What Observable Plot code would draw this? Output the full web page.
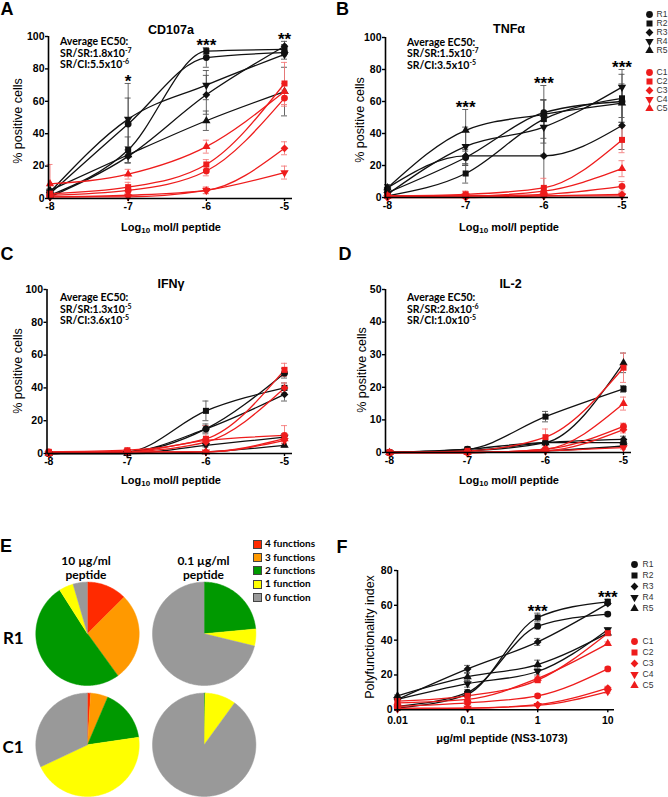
<!DOCTYPE html>
<html><head><meta charset="utf-8">
<script src="https://cdn.jsdelivr.net/npm/d3@7"></script>
<script src="https://cdn.jsdelivr.net/npm/@observablehq/plot@0.6"></script>
<style>
body{margin:0;background:#fff;}
#fig{position:relative;width:668px;height:797px;overflow:hidden;font-family:"Liberation Sans",Arial,sans-serif;color:#000;background:#fff;}
#fig svg{position:absolute;}
.t{position:absolute;white-space:nowrap;line-height:1;}
.c{transform:translate(-50%,-50%);text-align:center;}
.letter{font-weight:bold;font-size:18px;}
.title{font-weight:bold;font-size:12.5px;}
.ec{font-family:Lato,"Liberation Sans",sans-serif;font-weight:bold;font-size:10.5px;line-height:11.7px;}
.ec sup{font-size:7px;position:relative;top:-0.6em;vertical-align:baseline;line-height:0;}
.ytitle{font-size:12.5px;transform:translate(-50%,-50%) rotate(-90deg);}
.xtitle{font-weight:bold;font-size:11px;}
.xtitle sub{font-size:8px;vertical-align:baseline;position:relative;top:0.3em;}
.ehead{font-family:Lato,"Liberation Sans",sans-serif;font-weight:bold;font-size:12px;line-height:14.5px;}
.erow{font-family:Lato,"Liberation Sans",sans-serif;font-weight:bold;font-size:17px;}
.eleg{font-family:Lato,"Liberation Sans",sans-serif;font-weight:bold;font-size:10px;}
.sw{position:absolute;width:7px;height:7px;border:0.8px solid #444;}
</style>
</head>
<body>
<div id="fig">
  <div class="t c letter" style="left:7px;top:8.5px">A</div>
  <div class="t c letter" style="left:342.5px;top:8.5px">B</div>
  <div class="t c letter" style="left:7px;top:253.5px">C</div>
  <div class="t c letter" style="left:345px;top:253.5px">D</div>
  <div class="t c letter" style="left:6px;top:546px">E</div>
  <div class="t c letter" style="left:342px;top:546.5px">F</div>

  <div class="t c title" style="left:171px;top:29.5px">CD107a</div>
  <div class="t c title" style="left:509px;top:29px">TNFα</div>
  <div class="t c title" style="left:171px;top:283.5px">IFNγ</div>
  <div class="t c title" style="left:510.5px;top:283.5px">IL-2</div>

  <div class="t ec" style="left:60px;top:36px">Average EC50:<br>SR/SR:1.8x10<sup>-7</sup><br>SR/CI:5.5x10<sup>-6</sup></div>
  <div class="t ec" style="left:407px;top:36.5px">Average EC50:<br>SR/SR:1.5x10<sup>-7</sup><br>SR/CI:3.5x10<sup>-5</sup></div>
  <div class="t ec" style="left:60px;top:292px">Average EC50:<br>SR/SR:1.3x10<sup>-5</sup><br>SR/CI:3.6x10<sup>-5</sup></div>
  <div class="t ec" style="left:407px;top:292px">Average EC50:<br>SR/SR:2.8x10<sup>-6</sup><br>SR/CI:1.0x10<sup>-5</sup></div>

  <div class="t ytitle" style="left:18px;top:121px">% positive cells</div>
  <div class="t ytitle" style="left:360px;top:120px">% positive cells</div>
  <div class="t ytitle" style="left:18px;top:371px">% positive cells</div>
  <div class="t ytitle" style="left:362px;top:370px">% positive cells</div>
  <div class="t ytitle" style="left:370px;top:637px">Polyfunctionality index</div>

  <div class="t c xtitle" style="left:171px;top:226.7px">Log<sub>10</sub> mol/l peptide</div>
  <div class="t c xtitle" style="left:509px;top:226.7px">Log<sub>10</sub> mol/l peptide</div>
  <div class="t c xtitle" style="left:171px;top:480px">Log<sub>10</sub> mol/l peptide</div>
  <div class="t c xtitle" style="left:509px;top:480px">Log<sub>10</sub> mol/l peptide</div>
  <div class="t c xtitle" style="left:502px;top:738px">μg/ml peptide (NS3-1073)</div>

  <div class="t c ehead" style="left:86px;top:567.5px">10 µg/ml<br>peptide</div>
  <div class="t c ehead" style="left:203.5px;top:567.5px">0.1 µg/ml<br>peptide</div>
  <div class="t c erow" style="left:13.3px;top:636.7px">R1</div>
  <div class="t c erow" style="left:13px;top:746px">C1</div>
</div>
<script>
// ---------------- data ----------------
const doses = [-8, -7, -6, -5];
const polyDoses = [0.01, 0.1, 1, 10];
const seriesNames = ["R1","R2","R3","R4","R5","C1","C2","C3","C4","C5"];

const cd107aMean = [
  [3,46,87,90],[2,30,91,92],[1,26,64,94],[4,49,70,89],[5,27,48,66],
  [2,5,17,62],[3,7,21,71],[1,2,5,31],[1,1,5,16],[9,15,32,66]];
const cd107aErr = [
  [1,16,6,2],[1,8,2,3],[1,4,12,3],[1,22,9,3],[1,5,6,15],
  [1,2,3,5],[1,3,3,13],[1,1,2,4],[1,1,2,4],[12,3,4,5]];
const cd107aSig = ["","*","***","**"];

const tnfMean = [
  [3,25,53,60],[1,15,49,62],[6,26,26,45],[2,32,44,69],[6,42,52,59],
  [1,1,2,7],[1,2,6,36],[0,0,1,2],[0,1,1,1],[1,1,4,18]];
const tnfErr = [
  [1,5,8,10],[1,6,12,15],[2,5,22,15],[1,12,17,11],[2,13,18,12],
  [0.5,1,2,3],[0.5,2,6,8],[0.5,0.5,1,1],[0.5,0.5,1,1],[0.5,1,2,5]];
const tnfSig = ["","***","***","***"];

const ifngMean = [
  [0,1,15,49],[0,1,26,40],[0,1,15,36],[0,0,5,10],[0,0,1,5],
  [1,1,8,11],[1,2,9,51],[0,1,7,40],[0,1,1,8],[0,1,1,9]];
const ifngErr = [
  [0.5,0.5,3,3],[0.5,0.5,6,3],[0.5,0.5,2,4],[0.5,0.5,1,2],[0.5,0.5,0.5,1],
  [0.5,0.5,1,6],[0.5,1,8,4],[0.5,0.5,2,3],[0.5,0.5,0.5,2],[0.5,0.5,0.5,2]];
const ifngSig = ["","","",""];

const il2Mean = [
  [0,1,3,3],[0,1,11,19.5],[0,0.5,3,4],[0,0,0.5,2],[0,0.5,3,27.5],
  [0,0,1,8],[0,0.5,4.7,26],[0,0,0.5,7],[0,0,0.5,1.5],[0,0,1,15]];
const il2Err = [
  [0.2,0.3,0.5,1],[0.2,0.4,1.6,1],[0.2,0.2,0.5,1],[0.2,0.2,0.3,0.5],[0.2,0.3,0.5,3],
  [0.2,0.2,0.5,1],[0.2,0.3,2.5,4.5],[0.2,0.2,0.3,1],[0.2,0.2,0.3,0.5],[0.2,0.2,0.5,2]];
const il2Sig = ["","","",""];

const polyMean = [
  [2,10,48,55],[1,9,53,62],[6,23.5,39,61],[6,15,22,46],[8,19,26,44],
  [2,4,8,23.5],[5,8,17,44],[1,1,3,12.5],[0.5,1,2.5,10.5],[4,6,18,38]];
const polyErr = [
  [0.5,1.5,1.5,1],[0.5,1.5,2.5,1.5],[0.5,2,2,1],[0.5,2,2,1],[0.5,2,2.5,1],
  [0.5,1,1,1],[0.5,1,1,1],[0.5,0.5,0.5,1],[0.5,0.5,0.5,1],[0.5,1,1,1]];
const polySig = ["","","***","***"];

const pieFunctions = ["4 functions","3 functions","2 functions","1 function","0 function"];
const pieR1High = [12.5,27.5,51,4.5,4.5];
const pieR1Low  = [0,0,23.5,5.3,71.2];
const pieC1High = [1,5.4,16.3,45.3,32];
const pieC1Low  = [0,0,0.3,9.7,90];

// ---------------- styles ----------------
const BLACK = "#111", RED = "#ee1c1c", BLACK_ERR = "#555", RED_ERR = "#f47a7a";
const pieColors = ["#ff2a00","#ff9900","#009900","#ffff00","#999999"];
const triDown = {draw(ctx, size){const y=-Math.sqrt(size/(Math.sqrt(3)*3));ctx.moveTo(0,-y*2);ctx.lineTo(-Math.sqrt(3)*y,y);ctx.lineTo(Math.sqrt(3)*y,y);ctx.closePath();}};
const shapes = ["circle","square","diamond2",triDown,"triangle"];
const shapeR = [3.4,3.4,3.5,3.1,3.1];
const baseStyle = {fontFamily:'"Liberation Sans", Arial, sans-serif',fontSize:"10.5px",fontWeight:"bold",background:"transparent",overflow:"visible",color:"#000",maxWidth:"none"};
const fig = document.getElementById("fig");
function place(svg, left, top){svg.style.position="absolute";svg.style.left=left+"px";svg.style.top=top+"px";fig.appendChild(svg);}

// ---------------- dose-response panels ----------------
function panel(cfg){
  const xs = cfg.xs;
  const t = cfg.log ? Math.log10 : (v=>v);
  const inv = cfg.log ? (v=>Math.pow(10,v)) : (v=>v);
  const k = (cfg.lastPx-cfg.firstPx)/(t(xs[xs.length-1])-t(xs[0]));
  const d0 = inv(t(xs[0])-(cfg.firstPx-cfg.axisPx)/k);
  const d1 = inv(t(xs[xs.length-1])+(cfg.endPx-cfg.lastPx)/k);
  const capL = v => inv(t(v)-3/k), capR = v => inv(t(v)+3/k);
  const data = [];
  cfg.means.forEach((vals,i)=>vals.forEach((v,j)=>data.push({
    s:i, name:seriesNames[i], red:i>=5, x:xs[j], y:v,
    lo:Math.max(0,v-cfg.errs[i][j]), hi:v+cfg.errs[i][j]})));
  const marks = [];
  for (const red of [false,true]){
    const d = data.filter(r=>r.red===red), c = red?RED_ERR:BLACK_ERR;
    marks.push(Plot.ruleX(d,{x:"x",y1:"lo",y2:"hi",stroke:c,strokeWidth:0.9}));
    marks.push(Plot.ruleY(d,{y:"hi",x1:r=>capL(r.x),x2:r=>capR(r.x),stroke:c,strokeWidth:0.9}));
    marks.push(Plot.ruleY(d.filter(r=>r.lo>0),{y:"lo",x1:r=>capL(r.x),x2:r=>capR(r.x),stroke:c,strokeWidth:0.9}));
  }
  for (const red of [false,true])
    marks.push(Plot.line(data.filter(r=>r.red===red),{x:"x",y:"y",z:"name",curve:"monotone-x",stroke:red?RED:BLACK,strokeWidth:1.3}));
  for (const red of [false,true]) for (let s=0;s<5;s++)
    marks.push(Plot.dot(data.filter(r=>r.red===red && r.s%5===s),{x:"x",y:"y",symbol:shapes[s],r:shapeR[s],fill:red?RED:BLACK,stroke:"none"}));
  marks.push(Plot.ruleY([0],{stroke:"#000",strokeWidth:1.6}));
  marks.push(Plot.ruleX([d0],{y1:0,y2:cfg.yMax,stroke:"#000",strokeWidth:1.6}));
  marks.push(Plot.axisX({ticks:xs,tickFormat:v=>String(v),tickSize:3,tickPadding:cfg.log?3.5:1,label:null,strokeWidth:1.4}));
  marks.push(Plot.axisY({ticks:cfg.yTicks,tickFormat:v=>String(v),tickSize:3,tickPadding:cfg.log?2:1,label:null,strokeWidth:1.4}));
  const sigRows = xs.map((x,j)=>({x,label:cfg.sig[j],top:d3.max(data,r=>r.x===x?r.hi:NaN)})).filter(r=>r.label);
  marks.push(Plot.text(sigRows,{x:"x",y:"top",text:"label",fontSize:17,lineAnchor:"middle",dy:-2}));
  const svg = Plot.plot({
    width:cfg.width,height:cfg.height,
    marginLeft:cfg.axisPx-cfg.left,marginRight:cfg.left+cfg.width-cfg.endPx,
    marginTop:cfg.topPx-cfg.top,marginBottom:cfg.top+cfg.height-cfg.zeroPx,
    x:{type:cfg.log?"log":"linear",domain:[d0,d1]},
    y:{domain:[0,cfg.yMax]},
    style:baseStyle, marks});
  place(svg,cfg.left,cfg.top);
}

const t100 = [0,20,40,60,80,100];
panel({left:0,top:0,width:334,height:240,axisPx:48,firstPx:49.5,lastPx:284,endPx:292,zeroPx:198,topPx:36,yMax:100,yTicks:t100,xs:doses,means:cd107aMean,errs:cd107aErr,sig:cd107aSig});
panel({left:334,top:0,width:334,height:240,axisPx:385,firstPx:387,lastPx:621.5,endPx:628,zeroPx:197,topPx:37,yMax:100,yTicks:t100,xs:doses,means:tnfMean,errs:tnfErr,sig:tnfSig});
panel({left:0,top:240,width:334,height:250,axisPx:46.5,firstPx:48.3,lastPx:284,endPx:292,zeroPx:453,topPx:289,yMax:100,yTicks:t100,xs:doses,means:ifngMean,errs:ifngErr,sig:ifngSig});
panel({left:334,top:240,width:334,height:250,axisPx:385,firstPx:389,lastPx:623,endPx:631,zeroPx:452,topPx:289,yMax:50,yTicks:[0,10,20,30,40,50],xs:doses,means:il2Mean,errs:il2Err,sig:il2Sig});
panel({left:334,top:540,width:334,height:220,axisPx:397,firstPx:397,lastPx:607.3,endPx:614,zeroPx:709.3,topPx:570,yMax:80,yTicks:[0,20,40,60,80],xs:polyDoses,log:true,means:polyMean,errs:polyErr,sig:polySig});

// ---------------- symbol legends (one group of five per call) ----------------
function legend(group, left, top, width, height, markerX, labelX, y0, y1){
  const names = seriesNames.slice(group*5, group*5+5);
  const rows = names.map((n,s)=>({n,s}));
  const marks = [];
  for (let s=0;s<5;s++)
    marks.push(Plot.dot(rows.filter(r=>r.s===s),{x:()=>0,y:"n",symbol:shapes[s],r:shapeR[s],fill:group?RED:BLACK,stroke:"none"}));
  marks.push(Plot.text(rows,{x:()=>1,y:"n",text:"n",textAnchor:"start",fill:"#333",fontWeight:"normal",fontSize:8.5}));
  const svg = Plot.plot({width,height,margin:0,
    x:{domain:[0,1],range:[markerX-left,labelX-left],axis:null},
    y:{type:"point",domain:names,range:[y0-top,y1-top],axis:null},
    style:baseStyle, marks});
  place(svg,left,top);
}
legend(0,630,0,38,62,649,656,8,55.5);
legend(1,630,60,38,60,649,656,66.5,113);
legend(0,620,545,48,80,634,642,557.3,615.3);
legend(1,620,625,48,75,634,642,634,692.7);

// ---------------- pies (panel E) ----------------
const pieSets = [[0,0,pieR1High],[1,0,pieR1Low],[0,1,pieC1High],[1,1,pieC1Low]];
const colPx = [87,203.7], rowPx = [93.3,204.3], pieRpx = 51.7;
const rx = pieRpx/(colPx[1]-colPx[0]), ry = pieRpx/(rowPx[1]-rowPx[0]);
const pieMarks = [];
for (const [ci,ri,shares] of pieSets){
  const total = d3.sum(shares);
  let acc = 0;
  shares.forEach((v,k)=>{
    const a0 = acc/total*2*Math.PI; acc += v; const a1 = acc/total*2*Math.PI;
    if (v<=0) return;
    const n = Math.max(2,Math.ceil((a1-a0)/(Math.PI/180)));
    const pts = [{x:ci,y:ri}];
    for (let i=0;i<=n;i++){const a=a0+(a1-a0)*i/n;pts.push({x:ci+rx*Math.sin(a),y:ri-ry*Math.cos(a)});}
    pieMarks.push(Plot.line(pts,{x:"x",y:"y",fill:pieColors[k],stroke:pieColors[k],strokeWidth:0.5}));
  });
}
place(Plot.plot({width:334,height:257,margin:0,
  x:{domain:[0,1],range:colPx,axis:null},
  y:{domain:[0,1],range:rowPx,axis:null},
  style:baseStyle, marks:pieMarks}),0,540);

// pie legend
const legY = [543.8,557.1,570.4,583.7,597];
pieFunctions.forEach((lab,k)=>{
  const sw = document.createElement("div");
  sw.className="sw"; sw.style.left="253px"; sw.style.top=(legY[k]-4)+"px"; sw.style.background=pieColors[k];
  fig.appendChild(sw);
  const tx = document.createElement("div");
  tx.className="t eleg"; tx.style.left="265px"; tx.style.top=(legY[k]-5.5)+"px"; tx.textContent=lab;
  fig.appendChild(tx);
});
</script>
</body></html>
